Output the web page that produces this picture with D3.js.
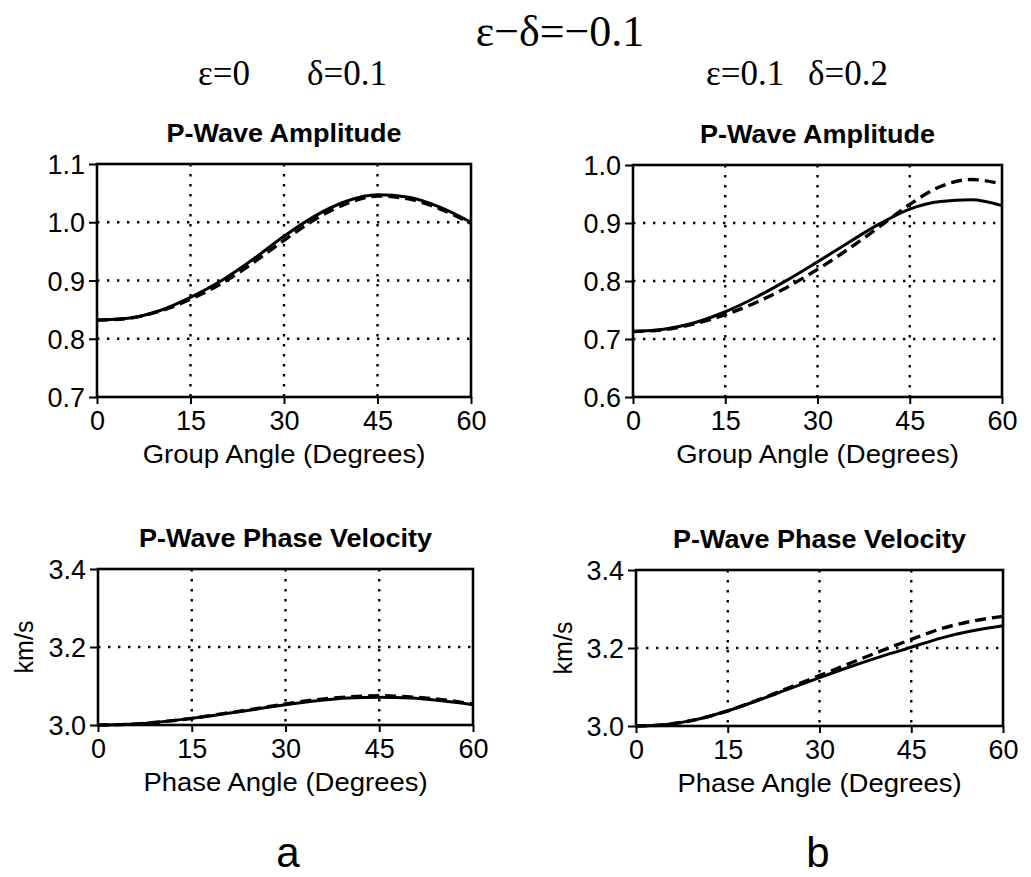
<!DOCTYPE html>
<meta charset="utf-8">
<script src="https://d3js.org/d3.v7.min.js"></script>
<style>
  body { margin: 0; background: #fff; }
  text { fill: #000; }
</style>
<div id="chart"></div>
<script>

// angles in degrees (x values for every curve)
var angles = [0, 5, 10, 15, 20, 25, 30, 35, 40, 45, 50, 55, 60];

// panel a: eps=0, delta=0.1
var ampA_solid  = [0.832, 0.835, 0.848, 0.871, 0.900, 0.936, 0.976, 1.011, 1.036, 1.047, 1.043, 1.026, 1.000];
var ampA_dashed = [0.832, 0.835, 0.847, 0.868, 0.895, 0.930, 0.969, 1.005, 1.032, 1.045, 1.040, 1.023, 0.998];
var velA_solid  = [3.000, 3.002, 3.008, 3.017, 3.028, 3.040, 3.052, 3.062, 3.069, 3.071, 3.069, 3.062, 3.052];
var velA_dashed = [3.000, 3.002, 3.008, 3.017, 3.029, 3.041, 3.054, 3.065, 3.072, 3.075, 3.072, 3.065, 3.054];

// panel b: eps=0.1, delta=0.2
var ampB_solid  = [0.713, 0.717, 0.728, 0.747, 0.772, 0.801, 0.833, 0.866, 0.898, 0.924, 0.937, 0.940, 0.930];
var ampB_dashed = [0.713, 0.716, 0.726, 0.742, 0.763, 0.789, 0.820, 0.855, 0.893, 0.932, 0.963, 0.975, 0.967];
var velB_solid  = [3.000, 3.004, 3.017, 3.039, 3.066, 3.095, 3.124, 3.152, 3.178, 3.202, 3.226, 3.244, 3.257];
var velB_dashed = [3.000, 3.004, 3.017, 3.039, 3.067, 3.098, 3.129, 3.161, 3.192, 3.222, 3.250, 3.269, 3.281];

// ticks
var xTicks = [0, 15, 30, 45, 60];
var ampA_ticks = [0.7, 0.8, 0.9, 1.0, 1.1];
var ampB_ticks = [0.6, 0.7, 0.8, 0.9, 1.0];
var vel_ticks = [3.0, 3.2, 3.4];

var mainTitle = "\u03b5\u2212\u03b4=\u22120.1";
var subA = ["\u03b5=0", "\u03b4=0.1"];
var subB = ["\u03b5=0.1", "\u03b4=0.2"];

var width = 1031, height = 877;
var sans = "'Liberation Sans', Arial, Helvetica, sans-serif";
var serif = "'Liberation Serif', 'Times New Roman', serif";

var svg = d3.select("#chart")
  .append("svg")
    .attr("width", width)
    .attr("height", height);

// header texts
svg.append("text")
  .attr("x", 560).attr("y", 46)
  .attr("text-anchor", "middle")
  .style("font-family", serif).style("font-size", "44px")
  .text(mainTitle);

function subtitle(x1, x2, parts) {
  svg.append("text").attr("x", x1).attr("y", 85)
    .style("font-family", serif).style("font-size", "35px").text(parts[0]);
  svg.append("text").attr("x", x2).attr("y", 85)
    .style("font-family", serif).style("font-size", "35px").text(parts[1]);
}
subtitle(198, 307, subA);
subtitle(706, 808, subB);

// text stretched a bit horizontally, like the scanned Helvetica
function wideText(x, y, txt, size, weight, sx) {
  svg.append("text")
    .attr("transform", "translate(" + x + "," + y + ") scale(" + sx + ",1)")
    .attr("text-anchor", "middle")
    .style("font-family", sans)
    .style("font-size", size + "px")
    .style("font-weight", weight)
    .text(txt);
}

var panels = [
  {l: 97,  r: 471,  t: 164, b: 397, dom: [0.7, 1.1], ticks: ampA_ticks, solid: ampA_solid, dashed: ampA_dashed,
   title: "P-Wave Amplitude", xTitle: "Group Angle (Degrees)", ylab: null},
  {l: 633, r: 1002, t: 165, b: 397, dom: [0.6, 1.0], ticks: ampB_ticks, solid: ampB_solid, dashed: ampB_dashed,
   title: "P-Wave Amplitude", xTitle: "Group Angle (Degrees)", ylab: null},
  {l: 98,  r: 473,  t: 569, b: 725, dom: [3.0, 3.4], ticks: vel_ticks, solid: velA_solid, dashed: velA_dashed,
   title: "P-Wave Phase Velocity", xTitle: "Phase Angle (Degrees)", ylab: 33},
  {l: 636, r: 1003, t: 570, b: 726, dom: [3.0, 3.4], ticks: vel_ticks, solid: velB_solid, dashed: velB_dashed,
   title: "P-Wave Phase Velocity", xTitle: "Phase Angle (Degrees)", ylab: 572}
];

panels.forEach(function(p) {
  var x = d3.scaleLinear().domain([0, 60]).range([p.l, p.r]);
  var y = d3.scaleLinear().domain(p.dom).range([p.b, p.t]);
  var cx = (p.l + p.r) / 2;

  // dotted grid on interior ticks
  svg.append("g").selectAll("line.vg")
    .data(xTicks.slice(1, -1))
    .enter().append("line")
      .attr("x1", function(d) { return x(d); }).attr("x2", function(d) { return x(d); })
      .attr("y1", p.t).attr("y2", p.b)
      .attr("stroke", "#000").attr("stroke-width", 2.4)
      .attr("stroke-dasharray", "2.4,7.6");
  svg.append("g").selectAll("line.hg")
    .data(p.ticks.slice(1, -1))
    .enter().append("line")
      .attr("x1", p.l).attr("x2", p.r)
      .attr("y1", function(d) { return y(d); }).attr("y2", function(d) { return y(d); })
      .attr("stroke", "#000").attr("stroke-width", 2.4)
      .attr("stroke-dasharray", "2.4,7.6");

  // axes
  var ax = svg.append("g")
    .attr("transform", "translate(0," + p.b + ")")
    .call(d3.axisBottom(x).tickValues(xTicks).tickSize(7).tickPadding(5).tickFormat(d3.format("d")));
  var ay = svg.append("g")
    .attr("transform", "translate(" + p.l + ",0)")
    .call(d3.axisLeft(y).tickValues(p.ticks).tickSize(8).tickPadding(4).tickFormat(d3.format(".1f")));
  [ax, ay].forEach(function(a) {
    a.select(".domain").remove();
    a.selectAll(".tick line").attr("stroke", "#000").attr("stroke-width", 2);
    a.selectAll(".tick text")
      .style("font-family", sans).style("font-size", "27px").attr("fill", "#000");
  });
  ax.selectAll(".tick text").attr("dy", "0.76em");
  ay.selectAll(".tick text").attr("dy", "0.36em");

  // frame
  svg.append("rect")
    .attr("x", p.l).attr("y", p.t)
    .attr("width", p.r - p.l).attr("height", p.b - p.t)
    .attr("fill", "none").attr("stroke", "#000").attr("stroke-width", 2.6);

  // curves
  var line = d3.line()
    .x(function(d, i) { return x(angles[i]); })
    .y(function(d) { return y(d); })
    .curve(d3.curveMonotoneX);
  svg.append("path").datum(p.dashed)
    .attr("d", line).attr("fill", "none")
    .attr("stroke", "#000").attr("stroke-width", 3.4)
    .attr("stroke-dasharray", "11,6");
  svg.append("path").datum(p.solid)
    .attr("d", line).attr("fill", "none")
    .attr("stroke", "#000").attr("stroke-width", 3);

  // titles
  wideText(cx, p.t - 22, p.title, 25, "bold", 1.08);
  wideText(cx, p.b + 66, p.xTitle, 25, "normal", 1.1);

  if (p.ylab !== null) {
    svg.append("text")
      .attr("transform", "translate(" + p.ylab + "," + ((p.t + p.b) / 2) + ") rotate(-90)")
      .attr("text-anchor", "middle")
      .style("font-family", sans).style("font-size", "25px")
      .text("km/s");
  }
});

// panel letters
svg.append("text").attr("x", 288).attr("y", 867).attr("text-anchor", "middle")
  .style("font-family", sans).style("font-size", "42px").text("a");
svg.append("text").attr("x", 818).attr("y", 867).attr("text-anchor", "middle")
  .style("font-family", sans).style("font-size", "42px").text("b");

</script>
